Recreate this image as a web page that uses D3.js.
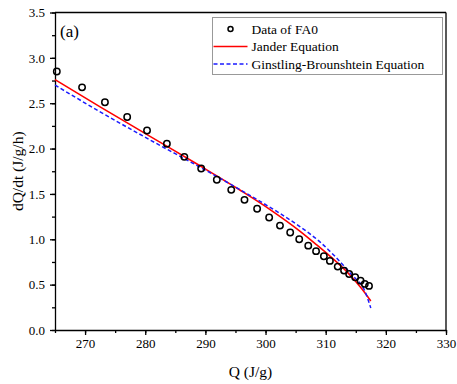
<!DOCTYPE html>
<html>
	<head>
		<title>dQ/dt vs Q</title>
		<script src="https://d3js.org/d3.v7.min.js"></script>
		<style>
			body {
				margin: 0;
				background-color: white;
			}
			svg text {
				font-family: "Liberation Serif", "Times New Roman", serif;
				fill: black;
			}
			.axis path, .axis line {
				stroke: black;
				stroke-width: 1.3;
			}
		</style>
	</head>
	<body>
		<div id="chart"></div>
		<script>
			// measured data (FA0)
			var dataQ = [265.3, 269.5, 273.3, 277.0, 280.3, 283.6, 286.5, 289.3, 291.9, 294.3,
				296.5, 298.6, 300.6, 302.4, 304.1, 305.6, 307.1, 308.4, 309.7, 310.7,
				312.0, 313.05, 313.9, 314.9, 315.8, 316.5, 317.2];
			var dataRate = [2.85, 2.675, 2.51, 2.348, 2.20, 2.053, 1.909, 1.78, 1.656, 1.545,
				1.435, 1.336, 1.24, 1.151, 1.074, 1.0, 0.93, 0.869, 0.813, 0.762,
				0.699, 0.655, 0.618, 0.582, 0.544, 0.508, 0.486];

			// Jander fit
			var janderQ = [265, 272.5, 280.8, 289.1, 295.8, 300.7, 305.7, 308.2, 310.7, 313.7, 316.0, 317.5];
			var janderRate = [2.76, 2.46, 2.135, 1.81, 1.54, 1.33, 1.09, 0.955, 0.815, 0.63, 0.455, 0.32];

			// Ginstling-Brounshtein fit
			var gbQ = [265, 272.5, 280.8, 289.1, 295.8, 299.1, 302.4, 305.7, 308.8, 311.5, 314.3, 316.5, 317.5];
			var gbRate = [2.70, 2.405, 2.095, 1.795, 1.545, 1.418, 1.285, 1.14, 0.985, 0.815, 0.61, 0.43, 0.243];

			var xTicks = [270, 280, 290, 300, 310, 320, 330];
			var yTicks = [0.0, 0.5, 1.0, 1.5, 2.0, 2.5, 3.0, 3.5];
			var legendLabels = ["Data of FA0", "Jander Equation", "Ginstling-Brounshtein Equation"];

			var W = 457, H = 384;
			var padLeft = 55, padTop = 12.5, padRight = 446, padBottom = 330;

			var svg = d3.select("#chart").append("svg")
				.attr("width", W).attr("height", H);

			var x = d3.scaleLinear().domain([265, 330]).range([padLeft, padRight]);
			var y = d3.scaleLinear().domain([0, 3.5]).range([padBottom, padTop]);

			// minor ticks
			var xMinor = d3.range(265, 331, 5);
			var yMinor = d3.range(0, 3.51, 0.25);

			svg.append("g").attr("class", "axis")
				.attr("transform", "translate(0," + padBottom + ")")
				.call(d3.axisBottom(x).tickValues(xMinor).tickSize(3).tickFormat(""))
				.select(".domain").remove();
			svg.append("g").attr("class", "axis")
				.attr("transform", "translate(" + padLeft + ",0)")
				.call(d3.axisLeft(y).tickValues(yMinor).tickSize(3).tickFormat(""))
				.select(".domain").remove();

			// major axes
			var xAxis = svg.append("g").attr("class", "axis")
				.attr("transform", "translate(0," + padBottom + ")")
				.call(d3.axisBottom(x).tickValues(xTicks).tickSize(5).tickSizeOuter(0).tickPadding(4));
			xAxis.selectAll("text").style("font-size", "13px");

			var yAxis = svg.append("g").attr("class", "axis")
				.attr("transform", "translate(" + padLeft + ",0)")
				.call(d3.axisLeft(y).tickValues(yTicks).tickSize(5).tickSizeOuter(0).tickPadding(5)
					.tickFormat(d3.format(".1f")));
			yAxis.selectAll("text").style("font-size", "13px");

			// frame top and right
			svg.append("line").attr("x1", padLeft).attr("x2", padRight).attr("y1", padTop).attr("y2", padTop)
				.style("stroke", "black").style("stroke-width", 1.3);
			svg.append("line").attr("x1", padRight).attr("x2", padRight).attr("y1", padTop).attr("y2", padBottom)
				.style("stroke", "black").style("stroke-width", 1.3);

			// axis titles
			svg.append("text")
				.attr("x", (padLeft + padRight) / 2).attr("y", 377)
				.attr("text-anchor", "middle")
				.style("font-size", "15.5px")
				.text("Q (J/g)");
			svg.append("text")
				.attr("transform", "translate(23," + ((padTop + padBottom) / 2) + ") rotate(-90)")
				.attr("text-anchor", "middle")
				.style("font-size", "15.5px")
				.text("dQ/dt (J/g/h)");

			svg.append("text")
				.attr("x", 60).attr("y", 37)
				.style("font-size", "17px")
				.text("(a)");

			// fit lines
			var line = d3.line()
				.x(function(d) { return x(d[0]); })
				.y(function(d) { return y(d[1]); })
				.curve(d3.curveMonotoneX);

			svg.append("path")
				.datum(d3.zip(janderQ, janderRate))
				.attr("d", line)
				.style("fill", "none").style("stroke", "#ff0000").style("stroke-width", 1.6);

			svg.append("path")
				.datum(d3.zip(gbQ, gbRate))
				.attr("d", line)
				.style("fill", "none").style("stroke", "#1a1aff").style("stroke-width", 1.5)
				.style("stroke-dasharray", "4,2.5");

			// data circles
			svg.selectAll(".pt")
				.data(d3.zip(dataQ, dataRate))
				.enter().append("circle")
				.attr("class", "pt")
				.attr("cx", function(d) { return x(d[0]); })
				.attr("cy", function(d) { return y(d[1]); })
				.attr("r", 3.2)
				.style("fill", "none").style("stroke", "black").style("stroke-width", 1.5);

			// legend
			var lg = svg.append("g");
			lg.append("rect")
				.attr("x", 212.5).attr("y", 17.5).attr("width", 230).attr("height", 57)
				.style("fill", "white").style("stroke", "#999").style("stroke-width", 1);
			var rowY = [29, 46.5, 64];
			lg.append("circle").attr("cx", 230.5).attr("cy", rowY[0]).attr("r", 2.5)
				.style("fill", "none").style("stroke", "black").style("stroke-width", 1.5);
			lg.append("line").attr("x1", 213.5).attr("x2", 247.5).attr("y1", rowY[1]).attr("y2", rowY[1])
				.style("stroke", "#ff0000").style("stroke-width", 1.6);
			lg.append("line").attr("x1", 213.5).attr("x2", 247.5).attr("y1", rowY[2]).attr("y2", rowY[2])
				.style("stroke", "#1a1aff").style("stroke-width", 1.5).style("stroke-dasharray", "4,2.5");
			lg.selectAll(".lt")
				.data(legendLabels)
				.enter().append("text")
				.attr("class", "lt")
				.attr("x", 251.5)
				.attr("y", function(d, i) { return rowY[i] + 4.5; })
				.style("font-size", "13.5px")
				.text(function(d) { return d; });
		</script>
	</body>
</html>
